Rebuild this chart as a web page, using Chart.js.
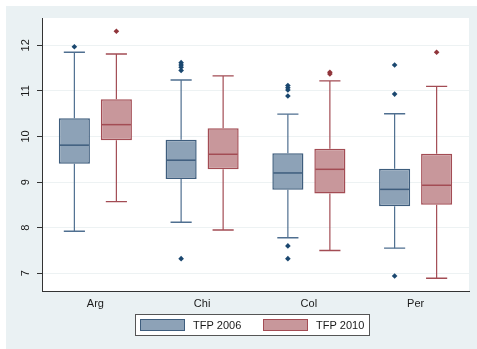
<!DOCTYPE html>
<html>
<head>
<meta charset="utf-8">
<script src="https://cdn.jsdelivr.net/npm/chart.js@4.4.1/dist/chart.umd.min.js"></script>
<style>
  html, body { margin: 0; padding: 0; background: #ffffff; }
  #wrap { width: 477px; height: 349px; }
</style>
</head>
<body>
<div id="wrap"><canvas id="c" width="477" height="349"></canvas></div>
<script>
// Countries on the x axis
const categories = ['Arg', 'Chi', 'Col', 'Per'];
const seriesLabels = ['TFP 2006', 'TFP 2010'];

// Box statistics, TFP 2006
const q1_2006 = [9.40, 9.07, 8.83, 8.47];
const med_2006 = [9.81, 9.48, 9.20, 8.84];
const q3_2006 = [10.40, 9.93, 9.63, 9.29];
const lo_2006 = [7.92, 8.12, 7.78, 7.55];
const hi_2006 = [11.85, 11.24, 10.49, 10.50];
const out_2006 = [
  [11.97],
  [11.62, 11.57, 11.52, 11.45, 7.32],
  [11.12, 11.07, 11.02, 10.89, 7.60, 7.32],
  [11.57, 10.93, 6.94]
];

// Box statistics, TFP 2010
const q1_2010 = [9.92, 9.28, 8.75, 8.50];
const med_2010 = [10.26, 9.61, 9.28, 8.93];
const q3_2010 = [10.82, 10.18, 9.73, 9.62];
const lo_2010 = [8.57, 7.95, 7.50, 6.89];
const hi_2010 = [11.81, 11.33, 11.22, 11.10];
const out_2010 = [
  [12.31],
  [],
  [11.41, 11.37],
  [11.85]
];

// Y axis tick values
const yTicks = [7, 8, 9, 10, 11, 12];

const stats = [
  { q1: q1_2006, med: med_2006, q3: q3_2006, lo: lo_2006, hi: hi_2006, out: out_2006,
    fill: '#8da2b7', line: '#3e5d7d', whisker: '#4f6f90', dot: '#1a476f' },
  { q1: q1_2010, med: med_2010, q3: q3_2010, lo: lo_2010, hi: hi_2010, out: out_2010,
    fill: '#c8979b', line: '#a34c54', whisker: '#a34c54', dot: '#90353b' }
];

const FONT = '"Liberation Sans", Arial, sans-serif';

// Page background, plot region and whiskers (under the boxes)
const backdrop = {
  id: 'backdrop',
  beforeDraw(chart) {
    const { ctx, chartArea: a } = chart;
    ctx.save();
    ctx.fillStyle = '#eaf1f3';
    ctx.fillRect(6, 6, chart.width - 6, chart.height - 6);
    ctx.fillStyle = '#ffffff';
    ctx.fillRect(a.left, a.top, a.right - a.left, a.bottom - a.top);
    ctx.restore();
  },
  beforeDatasetsDraw(chart) {
    const { ctx } = chart;
    const y = chart.scales.y;
    ctx.save();
    stats.forEach((s, di) => {
      const meta = chart.getDatasetMeta(di);
      meta.data.forEach((bar, i) => {
        const { x, width } = bar.getProps(['x', 'width'], true);
        const cap = width * 0.68;
        const yHi = y.getPixelForValue(s.hi[i]);
        const yLo = y.getPixelForValue(s.lo[i]);
        const yQ3 = y.getPixelForValue(s.q3[i]);
        const yQ1 = y.getPixelForValue(s.q1[i]);
        ctx.strokeStyle = s.whisker;
        ctx.lineWidth = 1.2;
        ctx.beginPath();
        ctx.moveTo(x, yHi); ctx.lineTo(x, yQ3);
        ctx.moveTo(x, yQ1); ctx.lineTo(x, yLo);
        ctx.stroke();
        ctx.lineWidth = 1.4;
        ctx.beginPath();
        ctx.moveTo(x - cap / 2, yHi); ctx.lineTo(x + cap / 2, yHi);
        ctx.moveTo(x - cap / 2, yLo); ctx.lineTo(x + cap / 2, yLo);
        ctx.stroke();
      });
    });
    ctx.restore();
  },
  // Medians, outside values, rotated y labels and the legend box
  afterDatasetsDraw(chart) {
    const { ctx } = chart;
    const y = chart.scales.y;
    ctx.save();
    stats.forEach((s, di) => {
      const meta = chart.getDatasetMeta(di);
      meta.data.forEach((bar, i) => {
        const { x, width } = bar.getProps(['x', 'width'], true);
        const ym = y.getPixelForValue(s.med[i]);
        ctx.strokeStyle = s.line;
        ctx.lineWidth = 1.5;
        ctx.beginPath();
        ctx.moveTo(x - width / 2 + 1, ym); ctx.lineTo(x + width / 2 - 1, ym);
        ctx.stroke();
        ctx.fillStyle = s.dot;
        s.out[i].forEach(v => {
          const yp = y.getPixelForValue(v);
          const r = 2.8;
          ctx.beginPath();
          ctx.moveTo(x, yp - r); ctx.lineTo(x + r, yp);
          ctx.lineTo(x, yp + r); ctx.lineTo(x - r, yp);
          ctx.closePath();
          ctx.fill();
        });
      });
    });
    ctx.restore();
  },
  afterDraw(chart) {
    const { ctx } = chart;
    const y = chart.scales.y;
    ctx.save();
    ctx.fillStyle = '#1a1a1a';
    ctx.font = '11px ' + FONT;
    ctx.textAlign = 'center';
    ctx.textBaseline = 'middle';
    y.ticks.forEach(t => {
      const yp = y.getPixelForValue(t.value);
      ctx.save();
      ctx.translate(26, yp);
      ctx.rotate(-Math.PI / 2);
      ctx.fillText(String(t.value), 0, 0);
      ctx.restore();
    });

    // legend
    const lx = 135, ly = 314, lw = 235, lh = 22;
    ctx.fillStyle = '#ffffff';
    ctx.fillRect(lx, ly, lw, lh);
    ctx.strokeStyle = '#555555';
    ctx.lineWidth = 1;
    ctx.strokeRect(lx + 0.5, ly + 0.5, lw - 1, lh - 1);
    const swX = [140, 263];
    chart.data.datasets.forEach((ds, di) => {
      const sx = swX[di];
      ctx.fillStyle = ds.backgroundColor;
      ctx.fillRect(sx, 319, 45, 12);
      ctx.strokeStyle = ds.borderColor;
      ctx.lineWidth = 1;
      ctx.strokeRect(sx + 0.5, 319.5, 44, 11);
      ctx.fillStyle = '#1a1a1a';
      ctx.textAlign = 'left';
      ctx.textBaseline = 'middle';
      ctx.font = '11px ' + FONT;
      ctx.fillText(ds.label, sx + 53, 325.5);
    });
    ctx.restore();
  }
};

new Chart(document.getElementById('c'), {
  type: 'bar',
  data: {
    labels: categories,
    datasets: stats.map((s, di) => ({
      label: seriesLabels[di],
      data: s.q1.map((v, i) => [v, s.q3[i]]),
      backgroundColor: s.fill,
      borderColor: s.line,
      borderWidth: 1.5,
      borderSkipped: false,
      categoryPercentage: 0.787,
      barPercentage: 0.74
    }))
  },
  options: {
    responsive: false,
    animation: false,
    devicePixelRatio: 1,
    layout: { padding: { top: 18, right: 8, left: 0, bottom: 0 } },
    plugins: { legend: { display: false }, tooltip: { enabled: false } },
    scales: {
      x: {
        offset: true,
        grid: { display: false, drawTicks: false },
        border: { display: true, color: '#333333', width: 1 },
        ticks: { color: '#1a1a1a', font: { family: FONT, size: 11 }, padding: 6 },
        afterFit(scale) { scale.height = 58; }
      },
      y: {
        min: 6.61,
        max: 12.6,
        afterBuildTicks(scale) { scale.ticks = yTicks.map(v => ({ value: v })); },
        ticks: { display: false, includeBounds: false },
        grid: { color: '#edf2f3', lineWidth: 1, tickColor: '#333333', tickLength: 5, drawTicks: true },
        border: { display: true, color: '#333333', width: 1 },
        afterFit(scale) { scale.width = 42; }
      }
    }
  },
  plugins: [backdrop]
});
</script>
</body>
</html>
